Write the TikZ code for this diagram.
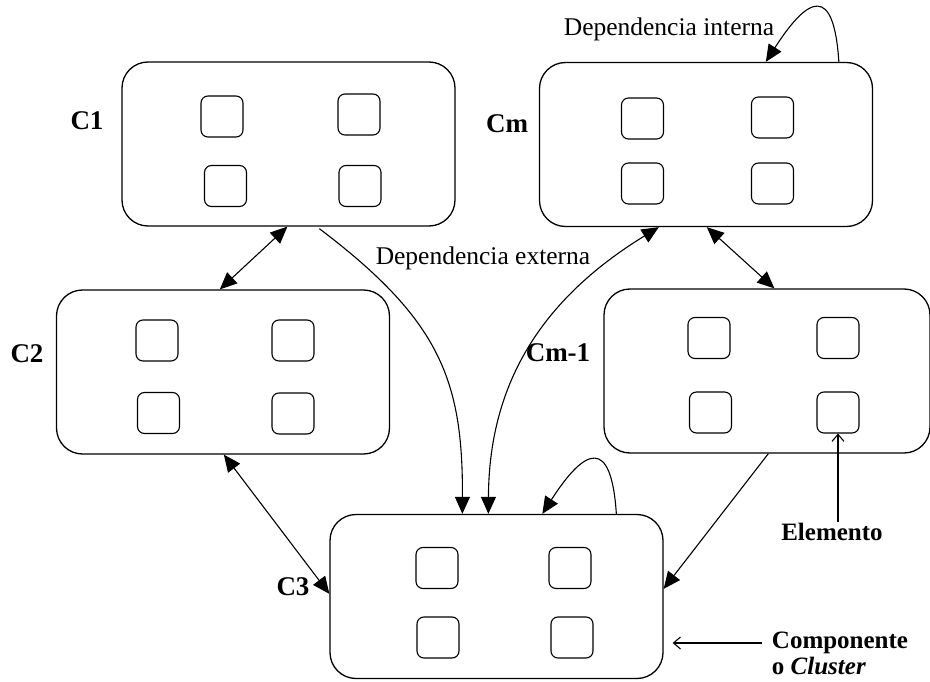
\documentclass[tikz,border=0pt]{standalone}
\usepackage{fontspec}
\setmainfont{Liberation Serif}
\usetikzlibrary{calc,arrows.meta}

\begin{document}
\begin{tikzpicture}[x=1pt,y=-1pt,
  cluster/.style={draw,line width=1.3pt,rounded corners=26pt,minimum width=333pt,minimum height=164pt,inner sep=0pt},
  elem/.style={draw,line width=1.1pt,rounded corners=7pt,minimum width=42pt,minimum height=41pt,inner sep=0pt},
  lbl/.style={font=\fontsize{25}{29}\selectfont\bfseries,inner sep=1pt},
  cname/.style={font=\fontsize{27}{31}\selectfont\bfseries,inner sep=1pt},
  txt/.style={font=\fontsize{25.5}{29}\selectfont,inner sep=1pt},
  link/.style={line width=1.1pt},
  solid tip/.style={-{Triangle[length=17pt,width=15pt]}},
  both tips/.style={{Triangle[length=17pt,width=15pt]}-{Triangle[length=17pt,width=15pt]}},
  open tip/.style={-{Straight Barb[length=7pt,width=12pt]}}
]
\useasboundingbox (0,0) rectangle (930,682);

% clusters
\node[cluster] (c1) at (288.5,144) {};
\node[cluster] (cm) at (706,144.5) {};
\node[cluster] (c2) at (223,372) {};
\node[cluster,minimum width=326pt] (cm1) at (767,371) {};
\node[cluster] (c3) at (496.5,596.5) {};

% elements inside each cluster
\node[elem] (c1a) at (222,116.5) {};
\node[elem] (c1b) at (359,114.5) {};
\node[elem] (c1c) at (225.5,186) {};
\node[elem] (c1d) at (360,186) {};

\node[elem] (cma) at (642.5,118.5) {};
\node[elem] (cmb) at (772.5,117.5) {};
\node[elem] (cmc) at (642.5,183.5) {};
\node[elem] (cmd) at (772.5,183.5) {};

\node[elem] (c2a) at (157,340.5) {};
\node[elem] (c2b) at (293,340.5) {};
\node[elem] (c2c) at (158.5,413) {};
\node[elem] (c2d) at (293,413.5) {};

\node[elem] (m1a) at (709,338) {};
\node[elem] (m1b) at (838,338) {};
\node[elem] (m1c) at (710.5,412.5) {};
\node[elem] (m1d) at (838,412.5) {};

\node[elem] (c3a) at (437,568) {};
\node[elem] (c3b) at (570,568) {};
\node[elem] (c3c) at (438,637.5) {};
\node[elem] (c3d) at (572,637.5) {};

% cluster names
\node[cname] (l1) at (87,121) {C1};
\node[cname] (lm) at (507,124) {Cm};
\node[cname] (l2) at (27,354) {C2};
\node[cname] (lm1) at (558,353) {Cm-1};
\node[cname] (l3) at (293,587) {C3};

% annotations
\node[txt] (dint) at (669,29) {Dependencia interna};
\node[txt] (dext) at (483,258) {Dependencia externa};
\node[lbl] (elabel) at (832,532) {Elemento};
\node[lbl] (comp) at (840,643) {Componente};
\node[lbl,anchor=north west] (ocl) at ([yshift=-1pt]comp.south west) {o \textit{Cluster}};

% dependencies between clusters
\draw[link,both tips] ($(c1.south west)+(166,0)$) -- ($(c2.north west)+(164,0)$);
\draw[link,both tips] ($(cm.south west)+(168,0)$) -- ($(cm1.north west)+(171,0)$);
\draw[link,both tips] ($(c2.south west)+(168,0)$) -- ($(c3.north west)+(0,80)$);
\draw[link,solid tip] ($(c1.south west)+(198,2)$) .. controls (440,320) and (463,380) .. ($(c3.north west)+(133,0)$);
\draw[link,both tips] ($(cm.south west)+(120,0)$) .. controls (540,300) and (489,385) .. ($(c3.north west)+(159,0)$);
\draw[link,solid tip] ($(cm1.south west)+(165,0)$) -- ($(c3.north east)+(0,75)$);

% internal dependencies (self loops)
\draw[link,solid tip] ($(cm.north west)+(300,0)$) .. controls +(-5,-77) and +(43,-67) .. ($(cm.north west)+(227,0)$);
\draw[link,solid tip] ($(c3.north west)+(287,0)$) .. controls +(-5,-77) and +(43,-67) .. ($(c3.north west)+(213,0)$);

% pointers to the legend texts
\draw[link,open tip] (m1d.south |- elabel.north) -- (m1d.south);
\draw[link,open tip] ([xshift=-9pt]comp.west) -- ([xshift=9pt]comp.west -| c3.east);
\end{tikzpicture}
\end{document}
